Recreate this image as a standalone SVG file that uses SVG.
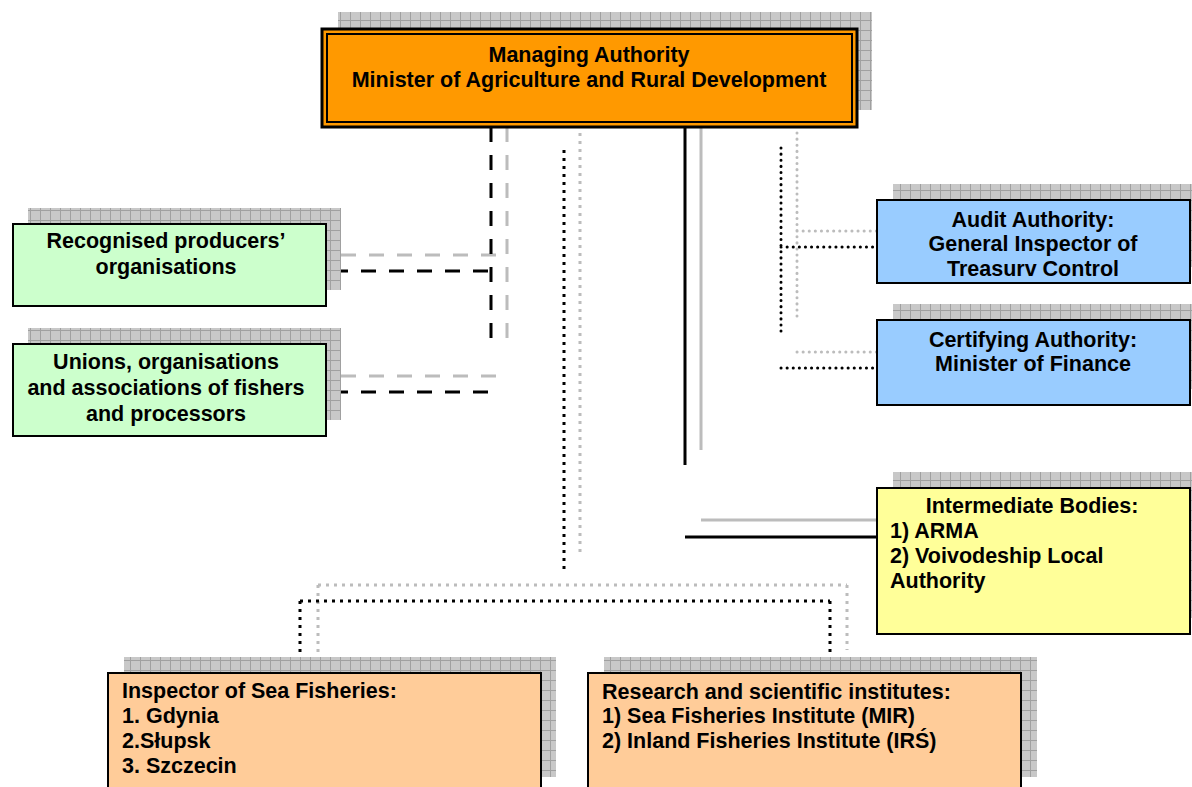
<svg xmlns="http://www.w3.org/2000/svg" width="1192" height="787" viewBox="0 0 1192 787">
<style>
text{font-family:"Liberation Sans",Arial,sans-serif;font-weight:bold;font-size:21.5px;fill:#000}
.c{text-anchor:middle}
.box{stroke:#000;stroke-width:2}
.sh{fill:url(#grid)}
.blk{fill:none;stroke:#000;stroke-width:3}
.gry{fill:none;stroke:#bcbcbc;stroke-width:3}
</style>
<defs>
<pattern id="grid" width="10" height="10" patternUnits="userSpaceOnUse">
<rect width="10" height="10" fill="#c8c8c8"/>
<path d="M0 0.5H10M0.5 0V10" stroke="#a0a0a0" stroke-width="1"/>
</pattern>
</defs>
<rect width="1192" height="787" fill="#fff"/>

<g id="connectors">
<!-- grey shadow connectors -->
<path class="gry" d="M507 127V340M341 255H507M341 376H505" stroke-dasharray="15 13"/>
<path class="gry" d="M580 133V556M318 585H847M318 585V652M847 585V650" stroke-dasharray="3 5"/>
<path class="gry" d="M701 127V450M701 520H893" stroke-width="5"/>
<path class="gry" d="M797 133V320M797 231H893M797 352H893" stroke-dasharray="0.1 6" stroke-linecap="round"/>
<!-- black connectors -->
<path class="blk" d="M491 127V350M333 271H491M333 392H490" stroke-dasharray="15 13"/>
<path class="blk" d="M564 150V573M300 601H830M300 601V668M830 601V665" stroke-dasharray="3 5"/>
<path class="blk" d="M685 127V465M685 537H877" stroke-width="4"/>
<path class="blk" d="M781 148V335M781 247H877M781 368H877" stroke-dasharray="0.1 6" stroke-linecap="round" stroke-width="3"/>
</g>

<g id="managing-authority">
<rect class="sh" x="338" y="12" width="534" height="98"/>
<rect x="322" y="29" width="535" height="98" fill="#ff9900" stroke="#000" stroke-width="3"/>
<rect x="327" y="34" width="525" height="88" fill="none" stroke="#000" stroke-width="2"/>
<text class="c" x="589" y="62">Managing Authority</text>
<text class="c" x="589" y="87">Minister of Agriculture and Rural Development</text>
</g>

<g id="producers">
<rect class="sh" x="28" y="208" width="313" height="82"/>
<rect class="box" x="13" y="224" width="313" height="82" fill="#ccffcc"/>
<text class="c" x="166" y="248">Recognised producers’</text>
<text class="c" x="166" y="274">organisations</text>
</g>

<g id="unions">
<rect class="sh" x="28" y="328" width="313" height="92"/>
<rect class="box" x="13" y="344" width="313" height="92" fill="#ccffcc"/>
<text class="c" x="166" y="369">Unions, organisations</text>
<text class="c" x="166" y="395">and associations of fishers</text>
<text class="c" x="166" y="421">and processors</text>
</g>

<g id="audit-authority">
<rect class="sh" x="893" y="184" width="299" height="83"/>
<rect class="box" x="877" y="200" width="313" height="83" fill="#99ccff"/>
<text class="c" x="1033" y="227">Audit Authority:</text>
<text class="c" x="1033" y="251">General Inspector of</text>
<text class="c" x="1033" y="276">Treasurv Control</text>
</g>

<g id="certifying-authority">
<rect class="sh" x="893" y="304" width="299" height="85"/>
<rect class="box" x="877" y="320" width="313" height="85" fill="#99ccff"/>
<text class="c" x="1033" y="347">Certifying Authority:</text>
<text class="c" x="1033" y="371">Minister of Finance</text>
</g>

<g id="intermediate-bodies">
<rect class="sh" x="893" y="472" width="299" height="146"/>
<rect class="box" x="877" y="488" width="313" height="146" fill="#ffff99"/>
<text class="c" x="1032" y="513">Intermediate Bodies:</text>
<text x="890" y="538">1) ARMA</text>
<text x="890" y="563">2) Voivodeship Local</text>
<text x="890" y="588">Authority</text>
</g>

<g id="sea-fisheries">
<rect class="sh" x="124" y="657" width="432" height="120"/>
<rect class="box" x="108" y="673" width="433" height="120" fill="#ffcc99"/>
<text x="122" y="698">Inspector of Sea Fisheries:</text>
<text x="122" y="723">1. Gdynia</text>
<text x="122" y="748">2.Słupsk</text>
<text x="122" y="773">3. Szczecin</text>
</g>

<g id="research-institutes">
<rect class="sh" x="604" y="657" width="433" height="120"/>
<rect class="box" x="588" y="673" width="433" height="120" fill="#ffcc99"/>
<text x="602" y="699">Research and scientific institutes:</text>
<text x="602" y="723">1) Sea Fisheries Institute (MIR)</text>
<text x="602" y="748">2) Inland Fisheries Institute (IRŚ)</text>
</g>
</svg>
